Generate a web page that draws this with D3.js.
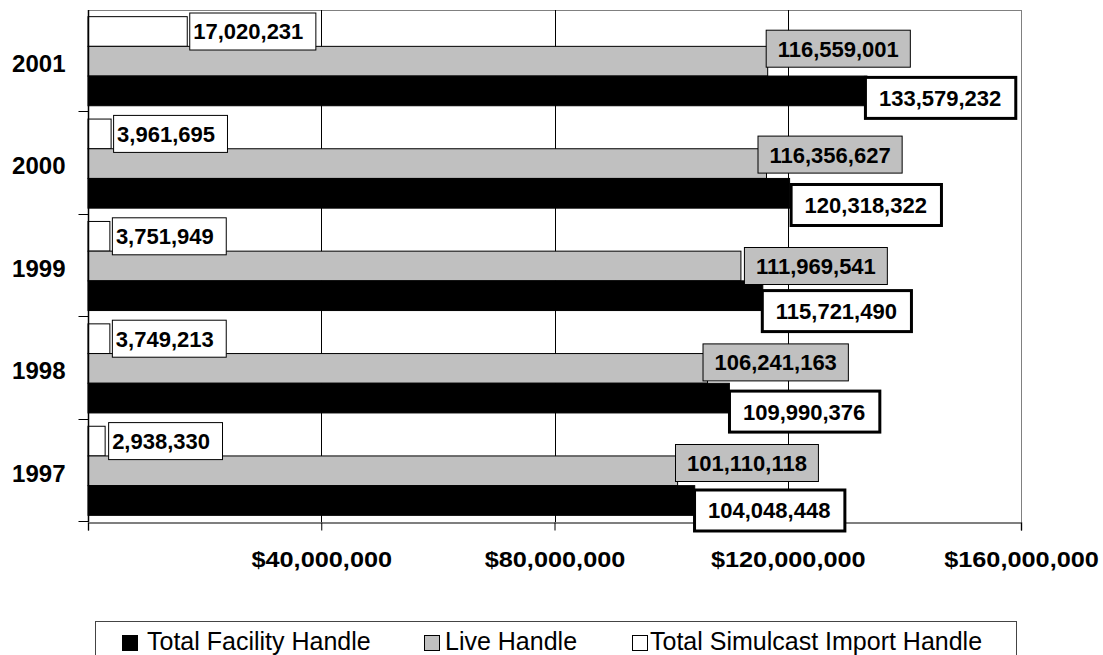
<!DOCTYPE html>
<html>
<head>
<meta charset="utf-8">
<script src="https://cdn.jsdelivr.net/npm/d3@7"></script>
<style>
  html, body { margin: 0; padding: 0; background: #fff; }
  svg { display: block; font-family: "Liberation Sans", Arial, Helvetica, sans-serif; }
</style>
</head>
<body>
<script>
// ---- data ----
const years = ["2001", "2000", "1999", "1998", "1997"];
const totalFacilityHandle = [133579232, 120318322, 115721490, 109990376, 104048448];
const liveHandle = [116559001, 116356627, 111969541, 106241163, 101110118];
const simulcastImportHandle = [17020231, 3961695, 3751949, 3749213, 2938330];
const xTickValues = [0, 40000000, 80000000, 120000000, 160000000];
const seriesNames = ["Total Facility Handle", "Live Handle", "Total Simulcast Import Handle"];

// ---- layout (label nudges, as placed in the original) ----
const labelNudge = {
  simulcast: [[2, 0], [2, 0], [2, 0], [2, 0], [3, 0]],
  live: [[-2, -12.5], [-9, -9], [3, 0], [-5, -6], [-2.6, -7.8]],
  total: [[-3, 7], [0, 11.7], [-2, 15.4], [-1.4, 13.5], [-1.7, 10]]
};

const W = 1103, H = 655;
const svg = d3.select("body").append("svg").attr("width", W).attr("height", H);

const x = d3.scaleLinear().domain([0, 160000000]).range([88, 1021]);
const y = d3.scaleBand().domain(years).range([10, 522]);

const series = [
  { key: "simulcast", name: seriesNames[2], values: simulcastImportHandle, fill: "#ffffff" },
  { key: "live", name: seriesNames[1], values: liveHandle, fill: "#c0c0c0" },
  { key: "total", name: seriesNames[0], values: totalFacilityHandle, fill: "#000000" }
];
const ys = d3.scaleBand().domain(series.map(s => s.key))
  .range([y.bandwidth() * 0.065, y.bandwidth() * 0.935]);

// plot border (top/right gray)
svg.append("line").attr("x1", 88).attr("x2", 1021.5).attr("y1", 10.5).attr("y2", 10.5)
  .attr("stroke", "#808080").attr("stroke-width", 1);
svg.append("line").attr("x1", 1021.5).attr("x2", 1021.5).attr("y1", 10).attr("y2", 522)
  .attr("stroke", "#808080").attr("stroke-width", 1);

// vertical gridlines
svg.append("g").selectAll("line").data(xTickValues.filter(v => v > 0 && v < 160000000))
  .join("line")
  .attr("x1", d => Math.round(x(d)) + 0.5).attr("x2", d => Math.round(x(d)) + 0.5)
  .attr("y1", 10).attr("y2", 522)
  .attr("stroke", "#000").attr("stroke-width", 1);

// bars
const barG = svg.append("g");
series.forEach(s => {
  barG.append("g").selectAll("rect").data(years.map((yr, i) => ({ yr, v: s.values[i] })))
    .join("rect")
    .attr("x", x(0))
    .attr("y", d => y(d.yr) + ys(s.key))
    .attr("width", d => x(d.v) - x(0))
    .attr("height", ys.bandwidth())
    .attr("fill", s.fill)
    .attr("stroke", "#000")
    .attr("stroke-width", 1);
});

// x axis
const xAxis = d3.axisBottom(x).tickValues(xTickValues).tickSize(8).tickPadding(18)
  .tickFormat(d => d === 0 ? "" : d3.format("$,")(d));
const gx = svg.append("g").attr("transform", "translate(0,522.5)").call(xAxis);
gx.select(".domain").attr("stroke", "#555").attr("stroke-width", 1.5);
gx.selectAll(".tick line").attr("stroke", "#000");
gx.selectAll(".tick text")
  .attr("font-size", 22).attr("font-weight", "bold").attr("fill", "#000")
  .attr("font-family", "'Liberation Sans', Arial, sans-serif")
  .attr("dy", null).attr("y", 44)
  .each(function () {
    const w = this.getComputedTextLength();
    if (w > 0) d3.select(this).attr("textLength", w * 1.15).attr("lengthAdjust", "spacingAndGlyphs");
  });

// y axis
const yAxis = d3.axisLeft(y).tickSize(0).tickPadding(23);
const gy = svg.append("g").attr("transform", "translate(88.5,0)").call(yAxis);
gy.select(".domain").attr("stroke", "#000").attr("stroke-width", 1.5).attr("d", "M0,10V522");
gy.selectAll(".tick text")
  .attr("font-size", 24).attr("font-weight", "bold").attr("fill", "#000")
  .attr("font-family", "'Liberation Sans', Arial, sans-serif")
  .attr("dy", "0.45em");
// category boundary ticks
const bounds = years.map(yr => y(yr) + y.bandwidth());
gy.append("g").selectAll("line").data(bounds).join("line")
  .attr("x1", -10).attr("x2", 0)
  .attr("y1", d => Math.round(d) - 0.5).attr("y2", d => Math.round(d) - 0.5)
  .attr("stroke", "#000").attr("stroke-width", 1);

// data labels
const fmt = d3.format(",");
const boxStyle = {
  simulcast: { h: 38, padL: 4, padR: 13, sw: 1, fill: "#fff" },
  live: { h: 38, padL: 12, padR: 12, sw: 1, fill: "#c0c0c0" },
  total: { h: 44, padL: 15, padR: 16, sw: 3, fill: "#fff" }
};
const labG = svg.append("g");
const fs = 22;
series.forEach(s => {
  years.forEach((yr, i) => {
    const v = s.values[i];
    const nud = labelNudge[s.key][i];
    const st = boxStyle[s.key];
    const cy = y(yr) + ys(s.key) + ys.bandwidth() / 2 + nud[1];
    const left = x(v) + nud[0];
    const g = labG.append("g");
    const rect = g.append("rect");
    const t = g.append("text").text(fmt(v))
      .attr("font-size", fs).attr("font-weight", "bold").attr("fill", "#000");
    const w = t.node().getComputedTextLength();
    const outerW = w + st.padL + st.padR;
    rect.attr("x", left + st.sw / 2).attr("y", cy - st.h / 2 + st.sw / 2)
      .attr("width", outerW - st.sw).attr("height", st.h - st.sw)
      .attr("fill", st.fill).attr("stroke", "#000").attr("stroke-width", st.sw);
    t.attr("x", left + st.padL).attr("y", cy + 0.36 * fs);
  });
});

// legend
const leg = svg.append("g");
leg.append("rect").attr("x", 95.5).attr("y", 621.5).attr("width", 921).attr("height", 60)
  .attr("fill", "#fff").attr("stroke", "#444").attr("stroke-width", 1);
const legItems = [
  { name: seriesNames[0], fill: "#000", mx: 122, tx: 147 },
  { name: seriesNames[1], fill: "#c0c0c0", mx: 424, tx: 445 },
  { name: seriesNames[2], fill: "#fff", mx: 632, tx: 650 }
];
legItems.forEach(it => {
  leg.append("rect").attr("x", it.mx + 0.5).attr("y", 635.5).attr("width", 15).attr("height", 15)
    .attr("fill", it.fill).attr("stroke", "#000").attr("stroke-width", 1);
  leg.append("text").attr("x", it.tx).attr("y", 650).text(it.name)
    .attr("font-size", 25).attr("fill", "#000");
});
</script>
</body>
</html>
